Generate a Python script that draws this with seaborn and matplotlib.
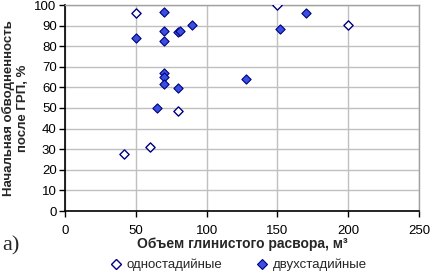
import pandas as pd
import seaborn as sns
import matplotlib.pyplot as plt
from matplotlib.lines import Line2D

# одностадийные
x_one = [42, 60, 50, 80, 150, 200]
y_one = [27.5, 31, 96, 48.5, 100, 90.5]
# двухстадийные
x_two = [50, 70, 70, 70, 70, 70, 70, 65, 80, 81, 90, 80, 128, 152, 170]
y_two = [84, 96.5, 87.5, 82.5, 67, 65, 61.5, 50, 87, 87.5, 90.5, 59.5, 64, 88.5, 96]

labels = ['одностадийные', 'двухстадийные']

df = pd.concat([
    pd.DataFrame({'x': x_one, 'y': y_one, 'Тип': labels[0]}),
    pd.DataFrame({'x': x_two, 'y': y_two, 'Тип': labels[1]}),
])

sns.set_style('white')
plt.rcParams['font.family'] = ['Liberation Sans', 'DejaVu Sans']

fig = plt.figure(figsize=(4.31, 2.71), dpi=100)
ax = fig.add_axes([65 / 431, 1 - 211 / 271, 354 / 431, 206 / 271])

edge = '#000080'
sns.scatterplot(data=df[df['Тип'] == labels[0]], x='x', y='y', marker='D', s=22,
                color='white', edgecolor=edge, linewidth=1.0, ax=ax, zorder=3, legend=False)
sns.scatterplot(data=df[df['Тип'] == labels[1]], x='x', y='y', marker='D', s=22,
                color='#3a4fe0', edgecolor=edge, linewidth=0.8, ax=ax, zorder=3, legend=False)

ax.set_xlim(0, 250)
ax.set_ylim(0, 100)
ax.set_xticks(range(0, 251, 50))
ax.set_yticks(range(0, 101, 10))
ax.grid(True, color='#c0c0c0', linewidth=1.0)
ax.set_axisbelow(True)
for side in ['top', 'right']:
    ax.spines[side].set_color('#a0a0a0')
    ax.spines[side].set_linewidth(1.0)
for side in ['left', 'bottom']:
    ax.spines[side].set_color('black')
    ax.spines[side].set_linewidth(1.2)
ax.tick_params(axis='both', which='major', direction='out', length=4, width=1,
               labelsize=9.5, colors='black', bottom=True, left=True, pad=2)
ax.tick_params(axis='x', pad=6)

ax.set_xlabel('Объем глинистого расвора, м³', fontsize=10, fontweight='bold', labelpad=0)
ax.set_ylabel('Начальная обводненность\nпосле ГРП, %', fontsize=9.5, fontweight='bold', labelpad=4)

fig.text(2 / 431, 1 - 246 / 271, 'а)', fontsize=16, family='Liberation Serif', va='center')

handles = [
    Line2D([], [], marker='D', linestyle='none', markersize=5, markerfacecolor='white',
           markeredgecolor=edge, markeredgewidth=1.0),
    Line2D([], [], marker='D', linestyle='none', markersize=5, markerfacecolor='#3a4fe0',
           markeredgecolor=edge, markeredgewidth=0.8),
]
fig.legend(handles, labels, loc='center', bbox_to_anchor=(238 / 431, 1 - 265 / 271),
           ncol=2, frameon=False, fontsize=9.5, handletextpad=0.3, columnspacing=2.5,
           handlelength=1.0, borderpad=0)

fig.savefig('out.png', dpi=100)
